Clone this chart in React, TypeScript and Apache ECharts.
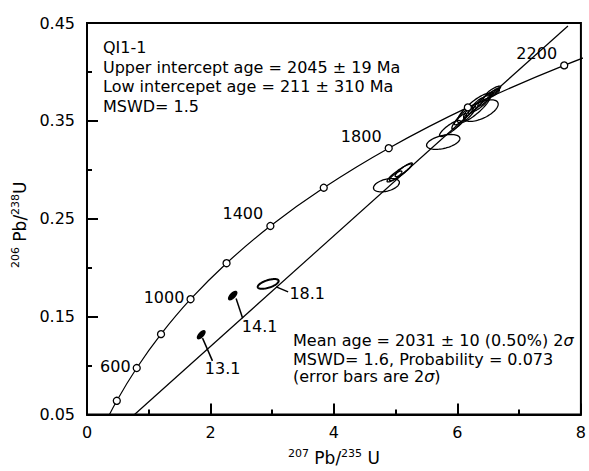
import React, { useEffect, useRef } from "react";
import * as echarts from "echarts";

// Concordia curve (ages in Ma, 207Pb/235U, 206Pb/238U)
const concordiaAges = [200, 400, 600, 800, 1000, 1200, 1400, 1600, 1800, 2000, 2200, 2400];
const concordia207 = [0.2177, 0.4828, 0.8056, 1.1989, 1.6774, 2.2604, 2.9702, 3.8347, 4.887, 6.1686, 7.7295, 9.6297];
const concordia206 = [0.0315, 0.064, 0.0975, 0.1321, 0.1678, 0.2046, 0.2426, 0.2817, 0.3221, 0.3638, 0.4067, 0.4511];
const markerAges = [400, 600, 800, 1000, 1200, 1400, 1600, 1800, 2000, 2200];
const labelledAges = [600, 1000, 1400, 1800, 2200];

// Discordia line end points
const discordia207 = [0.77, 7.79];
const discordia206 = [0.05, 0.447];

// Error ellipses: [207Pb/235U, 206Pb/238U, 2s 207/235, 2s 206/238, rho]
const ellipses = [
  [4.85, 0.2843, 0.21, 0.0068, 0.4],
  [5.06, 0.2968, 0.2, 0.0092, 0.92],
  [5.13, 0.3, 0.14, 0.007, 0.9],
  [5.0, 0.2938, 0.1, 0.005, 0.85],
  [5.77, 0.3285, 0.27, 0.0076, 0.45],
  [5.88, 0.3422, 0.17, 0.0082, 0.85],
  [6.03, 0.3495, 0.12, 0.008, 0.85],
  [6.1, 0.355, 0.15, 0.009, 0.9],
  [6.27, 0.363, 0.27, 0.015, 0.85],
  [6.38, 0.3605, 0.28, 0.011, 0.6],
  [6.3, 0.3655, 0.12, 0.008, 0.9],
  [6.45, 0.372, 0.12, 0.007, 0.9],
  [6.55, 0.377, 0.13, 0.005, 0.85],
  [6.2, 0.3575, 0.1, 0.007, 0.9],
  [6.4, 0.369, 0.15, 0.009, 0.9],
  [6.6, 0.3795, 0.08, 0.004, 0.85],
  [6.58, 0.3805, 0.12, 0.005, 0.85],
];

// Labelled discordant spots
const spotNames = ["13.1", "14.1", "18.1"];
const spotEllipses = [
  [1.85, 0.1315, 0.06, 0.004, 0.7],
  [2.36, 0.1715, 0.065, 0.0042, 0.7],
  [2.935, 0.1834, 0.17, 0.005, 0.6],
];
const spotLeaders = [
  [[1.871, 0.128], [2.032, 0.1048]],
  [[2.415, 0.1686], [2.521, 0.1484]],
  [[3.065, 0.1804], [3.258, 0.1753]],
];
const spotLabelAt = [
  [1.9, 0.0967],
  [2.5, 0.14],
  [3.27, 0.1733],
];

// Axis ticks
const xMin = 0, xMax = 8, xStep = 2;
const yMin = 0.05, yMax = 0.45, yStep = 0.1;

const FONT = "DejaVu Sans";

function ellipsePoints(api: any, v: number[]) {
  const [cx, cy, ex, ey, rho] = v;
  const pts: number[][] = [];
  const s = Math.sqrt(1 - rho * rho);
  for (let i = 0; i < 72; i++) {
    const t = (i / 72) * Math.PI * 2;
    const px = cx + ex * Math.cos(t);
    const py = cy + ey * (rho * Math.cos(t) + s * Math.sin(t));
    pts.push(api.coord([px, py]));
  }
  return pts;
}

export default function App() {
  const ref = useRef<HTMLDivElement>(null);
  useEffect(() => {
    if (!ref.current) return;
    const chart = echarts.init(ref.current, undefined, { renderer: "svg" });

    const concordiaData = concordiaAges.map((a, i) => [concordia207[i], concordia206[i]]);
    const markerData = markerAges.map((a) => {
      const i = concordiaAges.indexOf(a);
      const labelled = labelledAges.includes(a);
      const item: any = { value: [concordia207[i], concordia206[i]], name: String(a) };
      if (labelled) {
        const low = a <= 1000;
        item.label = {
          show: true,
          position: "left",
          distance: low ? 2 : 3,
          offset: low ? [0, -2] : [0, -12],
          formatter: String(a),
          fontFamily: FONT,
          fontSize: 16,
          color: "#000",
          opacity: 1,
        };
      }
      return item;
    });

    const supRich = {
      sup: { fontFamily: FONT, fontSize: 11, lineHeight: 11, verticalAlign: "top", color: "#000" },
      m: { fontFamily: FONT, fontSize: 17, lineHeight: 20, color: "#000" },
    };

    const textStyle = { fontFamily: FONT, fontSize: 16, fill: "#000", lineHeight: 16 };
    const italic = { i: { fontFamily: FONT, fontSize: 16, fontStyle: "italic", fill: "#000", lineHeight: 16 } };

    const option: any = {
      animation: false,
      backgroundColor: "#fff",
      grid: { left: 87, right: 6, top: 23, bottom: 52, show: true, borderColor: "#000", borderWidth: 2, backgroundColor: "transparent" },
      xAxis: {
        type: "value",
        min: xMin,
        max: xMax,
        interval: xStep,
        name: "{sup|207}{m| Pb/}{sup|235}{m| U}",
        nameLocation: "middle",
        nameGap: 33,
        nameTextStyle: { rich: supRich },
        axisLine: { show: true, onZero: false, lineStyle: { color: "#000", width: 2 } },
        axisTick: { show: true, inside: true, length: 11, lineStyle: { color: "#000", width: 2 } },
        minorTick: { show: true, splitNumber: 2, length: 5, lineStyle: { color: "#000", width: 2 } },
        axisLabel: { color: "#000", fontFamily: FONT, fontSize: 16, margin: 10, formatter: (v: number) => String(v) },
        splitLine: { show: false },
      },
      yAxis: {
        type: "value",
        min: yMin,
        max: yMax,
        interval: yStep,
        name: "{sup|206}{m| Pb/}{sup|238}{m|U}",
        nameLocation: "middle",
        nameGap: 40,
        nameRotate: 90,
        nameTextStyle: { rich: supRich, padding: [0, 12, 0, 0] },
        axisLine: { show: true, onZero: false, lineStyle: { color: "#000", width: 2 } },
        axisTick: { show: true, inside: true, length: 11, lineStyle: { color: "#000", width: 2 } },
        minorTick: { show: true, splitNumber: 2, length: 5, lineStyle: { color: "#000", width: 2 } },
        axisLabel: { color: "#000", fontFamily: FONT, fontSize: 16, margin: 12, formatter: (v: number) => v.toFixed(2) },
        splitLine: { show: false },
      },
      series: [
        {
          type: "line",
          data: concordiaData,
          smooth: 0.4,
          showSymbol: false,
          clip: true,
          lineStyle: { color: "#000", width: 1.2 },
          z: 2,
        },
        {
          type: "line",
          data: discordia207.map((x, i) => [x, discordia206[i]]),
          showSymbol: false,
          clip: true,
          lineStyle: { color: "#000", width: 1.2 },
          z: 2,
        },
        {
          type: "custom",
          clip: true,
          data: ellipses,
          encode: { x: 0, y: 1 },
          renderItem: (params: any, api: any) => {
            const v = [api.value(0), api.value(1), api.value(2), api.value(3), api.value(4)];
            return {
              type: "polygon",
              shape: { points: ellipsePoints(api, v) },
              style: { fill: "none", stroke: "#000", lineWidth: 1.3 },
            };
          },
          z: 3,
        },
        {
          type: "custom",
          clip: true,
          data: spotEllipses,
          encode: { x: 0, y: 1 },
          renderItem: (params: any, api: any) => {
            const v = [api.value(0), api.value(1), api.value(2), api.value(3), api.value(4)];
            const open = params.dataIndex === 2;
            return {
              type: "polygon",
              shape: { points: ellipsePoints(api, v) },
              style: { fill: open ? "none" : "#000", stroke: "#000", lineWidth: open ? 2 : 1.5 },
            };
          },
          z: 3,
        },
        ...spotLeaders.map((seg) => ({
          type: "line",
          data: seg,
          showSymbol: false,
          lineStyle: { color: "#000", width: 1.5 },
          z: 3,
        })),
        {
          type: "scatter",
          data: spotLabelAt.map((p, i) => ({ value: p, name: spotNames[i] })),
          symbol: "circle",
          symbolSize: 1,
          itemStyle: { color: "#fff", opacity: 0 },
          label: {
            show: true,
            position: "right",
            distance: 0,
            formatter: (p: any) => p.name,
            fontFamily: FONT,
            fontSize: 16,
            color: "#000",
            opacity: 1,
          },
          z: 4,
        },
        {
          type: "scatter",
          data: markerData,
          symbol: "circle",
          symbolSize: 7,
          itemStyle: { color: "#fff", borderColor: "#000", borderWidth: 1.3, opacity: 1 },
          z: 5,
        },
      ],
      graphic: [
        { type: "text", x: 103, y: 47.6, style: { ...textStyle, text: "QI1-1", verticalAlign: "middle" } },
        { type: "text", x: 103, y: 67, style: { ...textStyle, text: "Upper intercept age = 2045 ± 19 Ma", verticalAlign: "middle" } },
        { type: "text", x: 103, y: 86.2, style: { ...textStyle, text: "Low intercepet age = 211 ± 310 Ma", verticalAlign: "middle" } },
        { type: "text", x: 103, y: 106.6, style: { ...textStyle, text: "MSWD= 1.5", verticalAlign: "middle" } },
        {
          type: "text",
          x: 293,
          y: 340.5,
          style: { ...textStyle, text: "Mean age = 2031 ± 10 (0.50%) 2{i|σ}", verticalAlign: "middle", rich: italic },
        },
        { type: "text", x: 293, y: 359, style: { ...textStyle, text: "MSWD= 1.6, Probability = 0.073", verticalAlign: "middle" } },
        {
          type: "text",
          x: 293,
          y: 376.5,
          style: { ...textStyle, text: "(error bars are 2{i|σ})", verticalAlign: "middle", rich: italic },
        },
      ],
    };
    chart.setOption(option);
    return () => chart.dispose();
  }, []);
  return (
    <div
      ref={ref}
      style={{ position: "fixed", left: 0, top: 0, width: 589, height: 471, background: "#fff" }}
    />
  );
}
